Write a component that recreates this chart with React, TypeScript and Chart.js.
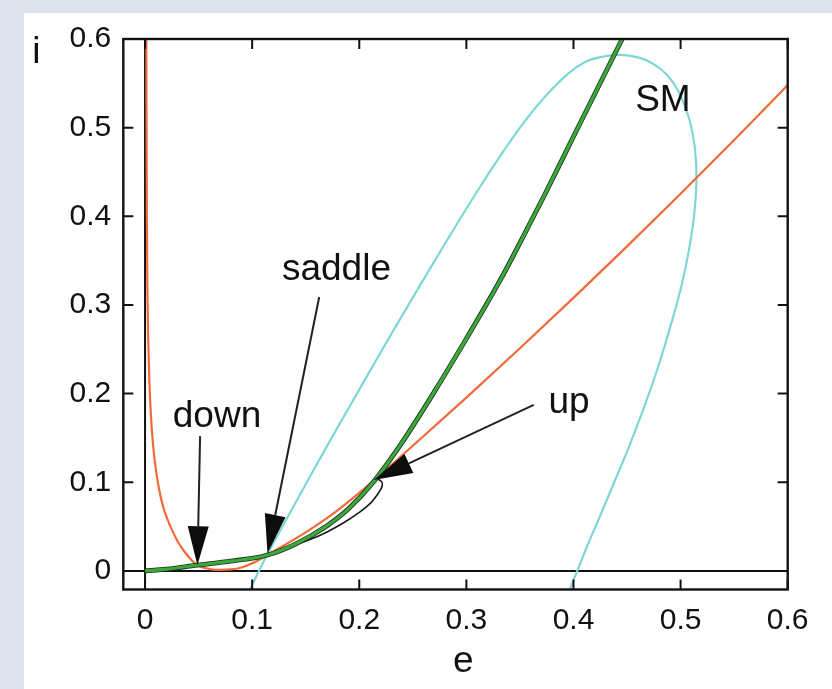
import React, { useEffect, useRef } from 'react';
import { Chart, registerables } from 'chart.js';

Chart.register(...registerables);

// Axis extents and tick labels
const E_MIN = -0.0203;
const E_MAX = 0.6;
const I_MIN = -0.021;
const I_MAX = 0.6;
const E_TICKS = [0, 0.1, 0.2, 0.3, 0.4, 0.5, 0.6];
const E_TICK_LABELS = ['0', '0.1', '0.2', '0.3', '0.4', '0.5', '0.6'];
const I_TICKS = [0, 0.1, 0.2, 0.3, 0.4, 0.5, 0.6];
const I_TICK_LABELS = ['0', '0.1', '0.2', '0.3', '0.4', '0.5', '0.6'];

// i-nullcline (orange)
const NULLCLINE_E = [
  0.0012, 0.0014, 0.0017, 0.0022, 0.003, 0.004, 0.0055, 0.0075, 0.01, 0.013,
  0.0165, 0.021, 0.026, 0.031, 0.036, 0.042, 0.0486, 0.055, 0.062, 0.07,
  0.08, 0.09, 0.1, 0.1137, 0.13, 0.15, 0.175, 0.2, 0.25, 0.3,
  0.35, 0.4, 0.45, 0.5, 0.55, 0.6,
];
const NULLCLINE_I = [
  0.6, 0.5, 0.4, 0.32, 0.26, 0.215, 0.175, 0.142, 0.115, 0.093,
  0.074, 0.058, 0.044, 0.032, 0.023, 0.014, 0.0065, 0.0035, 0.0018, 0.0012,
  0.0016, 0.0038, 0.0085, 0.0177, 0.029, 0.0435, 0.064, 0.088, 0.1411, 0.1955,
  0.2511, 0.308, 0.3661, 0.4255, 0.4861, 0.548,
];

// e-nullcline / branch of fixed points (green)
const BRANCH_E = [
  0, 0.02, 0.0486, 0.08, 0.1137, 0.14, 0.17, 0.19, 0.213, 0.24,
  0.267, 0.3, 0.333, 0.35, 0.373, 0.4, 0.4455,
];
const BRANCH_I = [
  0, 0.002, 0.0065, 0.011, 0.0177, 0.03, 0.051, 0.07, 0.1, 0.145,
  0.196, 0.262, 0.331, 0.37, 0.424, 0.49, 0.6,
];

// orbit leaving the saddle (thin black)
const ORBIT_E = [0.1137, 0.14, 0.165, 0.185, 0.2, 0.211, 0.218, 0.2215, 0.2205, 0.216];
const ORBIT_I = [0.0177, 0.029, 0.041, 0.054, 0.066, 0.077, 0.088, 0.096, 0.101, 0.104];

// stable manifold SM (cyan), traced from lower left over the top and down the right side
const SM_E = [
  0.098, 0.1137, 0.14, 0.17, 0.2, 0.24, 0.28, 0.31, 0.335, 0.355,
  0.375, 0.395, 0.41, 0.425, 0.4436, 0.461, 0.4745, 0.487, 0.4985, 0.508,
  0.5135, 0.5148, 0.5125, 0.5075, 0.5005, 0.4915, 0.479, 0.4645, 0.4505, 0.438,
  0.4245, 0.4135, 0.4035, 0.3965,
];
const SM_I = [
  -0.021, 0.0177, 0.0757, 0.141, 0.2045, 0.288, 0.369, 0.428, 0.474, 0.508,
  0.537, 0.561, 0.5735, 0.5795, 0.582, 0.579, 0.572, 0.56, 0.54, 0.51,
  0.475, 0.44, 0.4, 0.36, 0.32, 0.28, 0.23, 0.18, 0.136, 0.1,
  0.061, 0.03, 0.0, -0.021,
];

// annotation arrows: tail -> tip
const ARROW_TAIL_E = [0.0514, 0.1626, 0.3629];
const ARROW_TAIL_I = [0.152, 0.3089, 0.1872];
const ARROW_TIP_E = [0.0489, 0.1143, 0.2134];
const ARROW_TIP_I = [0.0064, 0.0197, 0.1025];

// annotation labels (left edge, baseline)
const NOTE_TEXT = ['down', 'saddle', 'up', 'SM'];
const NOTE_E = [0.0259, 0.1278, 0.3766, 0.4576];
const NOTE_I = [0.1627, 0.3277, 0.1782, 0.519];

const FONT_FAMILY = '"Liberation Sans", Arial, Helvetica, sans-serif';
const INK = '#111111';

const toPoints = (xs: number[], ys: number[]) => xs.map((x, k) => ({ x, y: ys[k] }));

const decorations = {
  id: 'decorations',
  beforeDatasetsDraw(chart: any) {
    const { ctx, chartArea: a, scales } = chart;
    const x0 = scales.x.getPixelForValue(0);
    const y0 = scales.y.getPixelForValue(0);
    ctx.save();
    ctx.strokeStyle = INK;
    ctx.lineWidth = 2;
    ctx.beginPath();
    ctx.moveTo(a.left, y0);
    ctx.lineTo(a.right, y0);
    ctx.moveTo(x0, a.top);
    ctx.lineTo(x0, a.bottom);
    ctx.stroke();
    ctx.restore();
  },
  afterDatasetsDraw(chart: any) {
    const { ctx, chartArea: a, scales } = chart;
    const sx = scales.x;
    const sy = scales.y;
    ctx.save();

    // frame
    ctx.strokeStyle = INK;
    ctx.lineWidth = 2.4;
    ctx.strokeRect(a.left, a.top, a.right - a.left, a.bottom - a.top);

    // inward tick marks on all four sides
    const len = 10;
    ctx.lineWidth = 2;
    ctx.beginPath();
    E_TICKS.forEach((v) => {
      const px = sx.getPixelForValue(v);
      ctx.moveTo(px, a.bottom);
      ctx.lineTo(px, a.bottom - len);
      ctx.moveTo(px, a.top);
      ctx.lineTo(px, a.top + len);
    });
    I_TICKS.forEach((v) => {
      const py = sy.getPixelForValue(v);
      ctx.moveTo(a.left, py);
      ctx.lineTo(a.left + len, py);
      ctx.moveTo(a.right, py);
      ctx.lineTo(a.right - len, py);
    });
    ctx.stroke();

    // arrows
    ARROW_TAIL_E.forEach((_, k) => {
      const x1 = sx.getPixelForValue(ARROW_TAIL_E[k]);
      const y1 = sy.getPixelForValue(ARROW_TAIL_I[k]);
      const x2 = sx.getPixelForValue(ARROW_TIP_E[k]);
      const y2 = sy.getPixelForValue(ARROW_TIP_I[k]);
      const ang = Math.atan2(y2 - y1, x2 - x1);
      const headLen = 39;
      const headHalf = 10.5;
      const bx = x2 - headLen * Math.cos(ang);
      const by = y2 - headLen * Math.sin(ang);
      ctx.strokeStyle = '#222222';
      ctx.lineWidth = 2;
      ctx.beginPath();
      ctx.moveTo(x1, y1);
      ctx.lineTo(bx, by);
      ctx.stroke();
      ctx.fillStyle = '#0d0d0d';
      ctx.beginPath();
      ctx.moveTo(x2, y2);
      ctx.lineTo(bx + headHalf * Math.sin(ang), by - headHalf * Math.cos(ang));
      ctx.lineTo(bx - headHalf * Math.sin(ang), by + headHalf * Math.cos(ang));
      ctx.closePath();
      ctx.fill();
    });

    // labels
    ctx.fillStyle = INK;
    ctx.font = `37px ${FONT_FAMILY}`;
    ctx.textAlign = 'left';
    ctx.textBaseline = 'alphabetic';
    NOTE_TEXT.forEach((t, k) => {
      ctx.fillText(t, sx.getPixelForValue(NOTE_E[k]), sy.getPixelForValue(NOTE_I[k]));
    });

    // axis titles
    ctx.fillText('i', a.left - 91, a.top + 23.6);
    ctx.textAlign = 'center';
    ctx.fillText('e', a.left + 340, a.bottom + 82.5);

    ctx.restore();
  },
};

export default function App() {
  const ref = useRef<HTMLCanvasElement | null>(null);

  useEffect(() => {
    if (!ref.current) return;
    const tickFont = { family: FONT_FAMILY, size: 30 };
    const chart = new Chart(ref.current, {
      type: 'scatter',
      data: {
        // first entry is painted last (on top)
        datasets: [
          {
            data: toPoints(BRANCH_E, BRANCH_I),
            showLine: true,
            borderColor: '#3aa93a',
            borderWidth: 3.2,
            pointRadius: 0,
            cubicInterpolationMode: 'monotone',
          },
          {
            data: toPoints(BRANCH_E, BRANCH_I),
            showLine: true,
            borderColor: '#1f2a1f',
            borderWidth: 4.8,
            pointRadius: 0,
            cubicInterpolationMode: 'monotone',
          },
          {
            data: toPoints(ORBIT_E, ORBIT_I),
            showLine: true,
            borderColor: '#1a1a1a',
            borderWidth: 1.6,
            pointRadius: 0,
            tension: 0.4,
          },
          {
            data: toPoints(NULLCLINE_E, NULLCLINE_I),
            showLine: true,
            borderColor: '#f06a3a',
            borderWidth: 2.2,
            pointRadius: 0,
            cubicInterpolationMode: 'monotone',
          },
          {
            data: toPoints(SM_E, SM_I),
            showLine: true,
            borderColor: '#7fd6d6',
            borderWidth: 2.2,
            pointRadius: 0,
            tension: 0.4,
          },
        ],
      },
      options: {
        animation: false,
        responsive: false,
        maintainAspectRatio: false,
        layout: { padding: { left: 0, right: 44.3, top: 39, bottom: 0 } },
        plugins: {
          legend: { display: false },
          tooltip: { enabled: false },
        },
        scales: {
          x: {
            type: 'linear',
            min: E_MIN,
            max: E_MAX,
            grid: { display: false, drawTicks: false },
            border: { display: false },
            afterBuildTicks: (s: any) => {
              s.ticks = E_TICKS.map((value) => ({ value }));
            },
            afterFit: (s: any) => {
              s.height = 99.5;
            },
            ticks: {
              padding: 13,
              color: INK,
              font: tickFont,
              maxRotation: 0,
              autoSkip: false,
              callback: (_v: any, idx: number) => E_TICK_LABELS[idx],
            },
          },
          y: {
            type: 'linear',
            min: I_MIN,
            max: I_MAX,
            grid: { display: false, drawTicks: false },
            border: { display: false },
            afterBuildTicks: (s: any) => {
              s.ticks = I_TICKS.map((value) => ({ value }));
            },
            afterFit: (s: any) => {
              s.width = 123.3;
            },
            ticks: {
              padding: 12,
              color: INK,
              font: tickFont,
              autoSkip: false,
              callback: (_v: any, idx: number) => I_TICK_LABELS[idx],
            },
          },
        },
      },
      plugins: [decorations],
    } as any);
    return () => chart.destroy();
  }, []);

  return (
    <div
      style={{
        position: 'absolute',
        left: 0,
        top: 0,
        width: 832,
        height: 689,
        overflow: 'hidden',
        background: '#dde4ee',
      }}
    >
      <div
        style={{
          position: 'absolute',
          left: 24,
          top: 13,
          width: 808,
          height: 676,
          background: '#ffffff',
        }}
      />
      <canvas
        ref={ref}
        width={832}
        height={689}
        style={{ position: 'absolute', left: 0, top: 0, width: 832, height: 689 }}
      />
    </div>
  );
}
